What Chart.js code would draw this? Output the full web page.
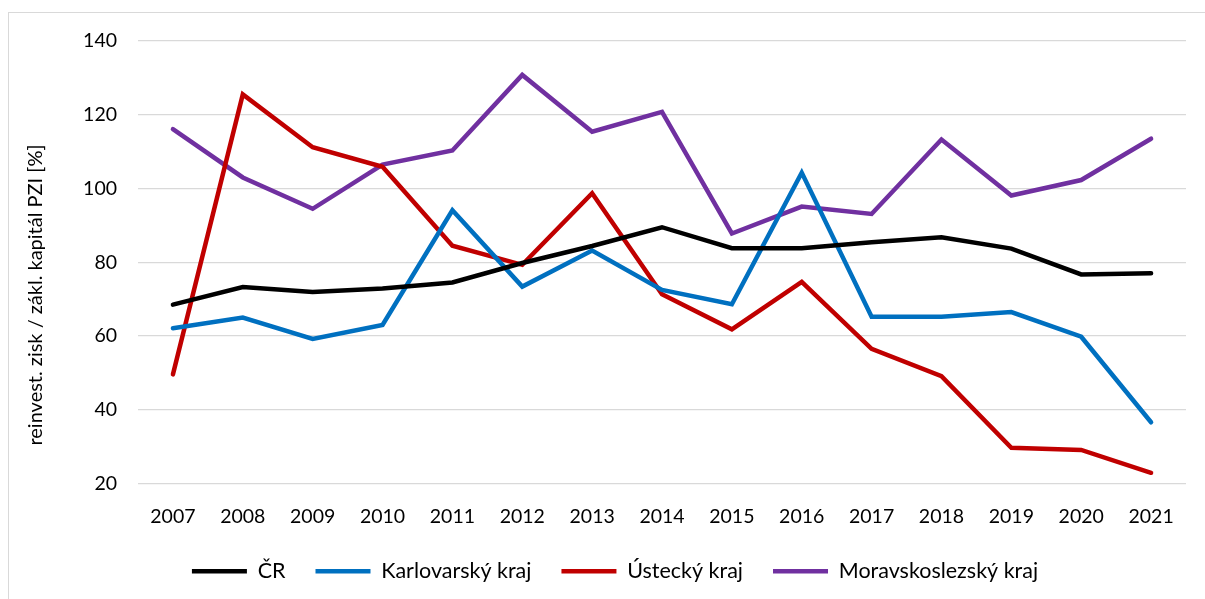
<!DOCTYPE html>
<html>
<head>
<meta charset="utf-8">
<script src="https://cdn.jsdelivr.net/npm/chart.js@4/dist/chart.umd.min.js"></script>
<style>
  html, body { margin: 0; padding: 0; background: #ffffff; }
  #wrap { position: relative; width: 1205px; height: 599px; overflow: hidden; }
  #frame { position: absolute; left: 8px; top: 12px; width: 1300px; height: 700px; border: 1px solid #D9D9D9; box-sizing: border-box; }
  canvas { position: absolute; left: 0; top: 0; }
</style>
</head>
<body>
<div id="wrap">
  <div id="frame"></div>
  <canvas id="c" width="1205" height="599"></canvas>
</div>
<script>
const years = ['2007','2008','2009','2010','2011','2012','2013','2014','2015','2016','2017','2018','2019','2020','2021'];
const cr = [68.5, 73.3, 71.9, 72.9, 74.5, 79.8, 84.4, 89.5, 83.8, 83.8, 85.4, 86.8, 83.7, 76.7, 77.0];
const karlovarsky = [62.1, 65.0, 59.2, 63.0, 94.1, 73.4, 83.2, 72.5, 68.6, 104.3, 65.2, 65.2, 66.5, 59.8, 36.6];
const ustecky = [49.6, 125.5, 111.2, 105.9, 84.5, 79.3, 98.7, 71.3, 61.8, 74.7, 56.5, 49.1, 29.7, 29.1, 22.9];
const moravskoslezsky = [116.1, 103.0, 94.5, 106.5, 110.3, 130.8, 115.4, 120.8, 87.8, 95.1, 93.1, 113.3, 98.1, 102.3, 113.5];
const seriesNames = ['ČR', 'Karlovarský kraj', 'Ústecký kraj', 'Moravskoslezský kraj'];
const seriesColors = ['#000000', '#0070C0', '#C00000', '#7030A0'];
const yTitle = 'reinvest. zisk / zákl. kapitál PZI [%]';

const FONT = 'Lato, Carlito, Calibri, "Open Sans", sans-serif';
const allData = [cr, karlovarsky, ustecky, moravskoslezsky];

const datasets = allData.map((d, i) => ({
  label: seriesNames[i],
  data: d,
  borderColor: seriesColors[i],
  backgroundColor: seriesColors[i],
  borderWidth: 4.5,
  borderCapStyle: 'round',
  borderJoinStyle: 'miter',
  pointRadius: 0,
  pointHoverRadius: 0,
  tension: 0,
  fill: false
}));

// y-axis title, placed where the reference has it (slightly below the plot centre)
const yTitlePlugin = {
  id: 'yTitle',
  afterDraw(chart) {
    const ctx = chart.ctx;
    ctx.save();
    ctx.translate(36, 295);
    ctx.rotate(-Math.PI / 2);
    ctx.font = '20px ' + FONT;
    ctx.fillStyle = '#000000';
    ctx.textAlign = 'center';
    ctx.textBaseline = 'middle';
    ctx.fillText(yTitle, 0, 0);
    ctx.restore();
  }
};

new Chart(document.getElementById('c'), {
  type: 'line',
  data: { labels: years, datasets: datasets },
  plugins: [yTitlePlugin],
  options: {
    responsive: false,
    animation: false,
    devicePixelRatio: 1,
    layout: { padding: { left: 44, right: 19, top: 41, bottom: 7 } },
    plugins: {
      legend: {
        display: true,
        position: 'bottom',
        labels: {
          usePointStyle: true,
          pointStyle: 'line',
          pointStyleWidth: 55,
          color: '#000000',
          font: { family: FONT, size: 21.5 },
          padding: 30
        }
      },
      tooltip: { enabled: false }
    },
    scales: {
      x: {
        offset: true,
        grid: { display: false, drawTicks: false },
        border: { display: false },
        ticks: { color: '#000000', font: { family: FONT, size: 19.5 }, padding: 22, maxRotation: 0 },
        afterFit: (s) => { s.height = 47; }
      },
      y: {
        min: 20,
        max: 140,
        grid: { color: '#D9D9D9', lineWidth: 1.3, drawTicks: false },
        border: { display: false },
        ticks: { stepSize: 20, color: '#000000', font: { family: FONT, size: 19.5 }, padding: 21 },
        title: { display: false },
        afterFit: (s) => { s.width = 94; }
      }
    }
  }
});
</script>
</body>
</html>
